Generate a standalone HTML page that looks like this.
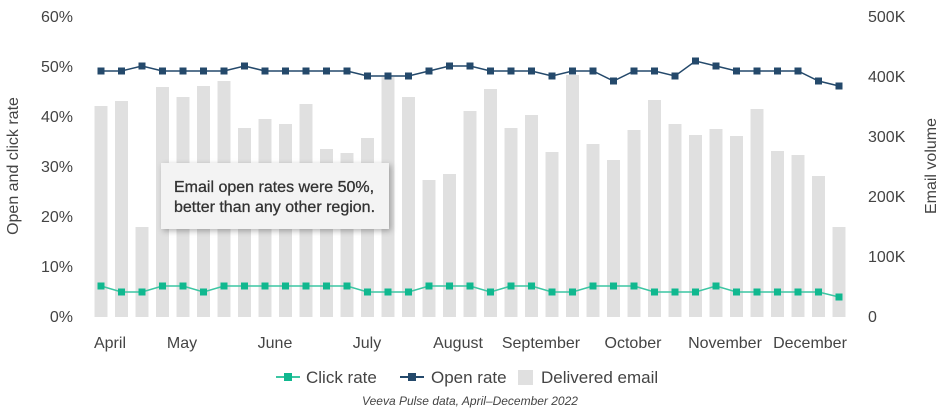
<!DOCTYPE html>
<html><head><meta charset="utf-8"><style>
body{margin:0;background:#fff;width:940px;height:412px;overflow:hidden;font-family:"Liberation Sans",sans-serif}
svg text{font-family:"Liberation Sans",sans-serif;fill:#444}
</style></head><body>
<svg id="s" width="940" height="412" viewBox="0 0 940 412" xmlns="http://www.w3.org/2000/svg">
<g id="bars"></g>
<g id="lines"></g>
<g font-size="16" text-anchor="end">
<text x="73" y="22">60%</text><text x="73" y="72">50%</text><text x="73" y="122">40%</text>
<text x="73" y="172">30%</text><text x="73" y="222">20%</text><text x="73" y="272">10%</text><text x="73" y="322">0%</text>
</g>
<g font-size="16" text-anchor="start">
<text x="868" y="22">500K</text><text x="868" y="82">400K</text><text x="868" y="142">300K</text>
<text x="868" y="202">200K</text><text x="868" y="262">100K</text><text x="868" y="322">0</text>
</g>
<text transform="translate(18,166) rotate(-90)" font-size="16" text-anchor="middle">Open and click rate</text>
<text transform="translate(936,166) rotate(-90)" font-size="16" text-anchor="middle">Email volume</text>
<g font-size="16" text-anchor="middle">
<text x="110" y="348">April</text><text x="182" y="348">May</text><text x="275" y="348">June</text>
<text x="367" y="348">July</text><text x="458" y="348">August</text><text x="541" y="348">September</text>
<text x="633" y="348">October</text><text x="725" y="348">November</text><text x="810" y="348">December</text>
</g>
<rect x="161" y="163" width="228" height="66" fill="#f3f3f3" style="filter:drop-shadow(2px 2px 3px rgba(0,0,0,0.3))"/>
<text x="174" y="192" font-size="16" style="fill:#333;stroke:#333;stroke-width:0.3">Email open rates were 50%,</text>
<text x="174" y="212" font-size="16" style="fill:#333;stroke:#333;stroke-width:0.3">better than any other region.</text>
<g font-size="17">
<line x1="276" y1="377" x2="300" y2="377" stroke="#3cc6a3" stroke-width="2"/><rect x="284" y="373" width="8" height="8" fill="#10b88f"/>
<text x="306" y="383">Click rate</text>
<line x1="400" y1="377" x2="424" y2="377" stroke="#24496b" stroke-width="2"/><rect x="408" y="373" width="8" height="8" fill="#24496b"/>
<text x="431" y="383">Open rate</text>
<rect x="518" y="370" width="15" height="15" fill="#e0e0e0"/>
<text x="541" y="383">Delivered email</text>
</g>
<text x="470" y="405" font-size="12" font-style="italic" text-anchor="middle">Veeva Pulse data, April–December 2022</text>
</svg>
<script>
var tops=[106,101,227,87,97,86,81,128,119,124,104,149,153,138,77,97,180,174,111,89,128,115,152,75,144,160,130,100,124,135,129,136,109,151,155,176,227];
var op=[71,71,66,71,71,71,71,66,71,71,71,71,71,76,76,76,71,66,66,71,71,71,76,71,71,81,71,71,76,61,66,71,71,71,71,81,86];
var cl=[286,292,292,286,286,292,286,286,286,286,286,286,286,292,292,292,286,286,286,292,286,286,292,292,286,286,286,292,292,292,286,292,292,292,292,292,297];
var ns="http://www.w3.org/2000/svg",b=document.getElementById('bars'),l=document.getElementById('lines');
function el(t,a,p){var e=document.createElementNS(ns,t);for(var k in a)e.setAttribute(k,a[k]);p.appendChild(e);return e;}
var xs=tops.map(function(_,i){return 101+i*20.5;});
tops.forEach(function(t,i){el('rect',{x:xs[i]-6.5,y:t,width:13,height:317-t,fill:'#e0e0e0'},b);});
function line(ys,lc,mc){el('polyline',{points:ys.map(function(y,i){return xs[i]+','+y;}).join(' '),fill:'none',stroke:lc,'stroke-width':1.5},l);
ys.forEach(function(y,i){el('rect',{x:xs[i]-3.5,y:y-3.5,width:7,height:7,fill:mc},l);});}
line(op,'#24496b','#24496b');line(cl,'#3cc6a3','#10b88f');
</script>
</body></html>
